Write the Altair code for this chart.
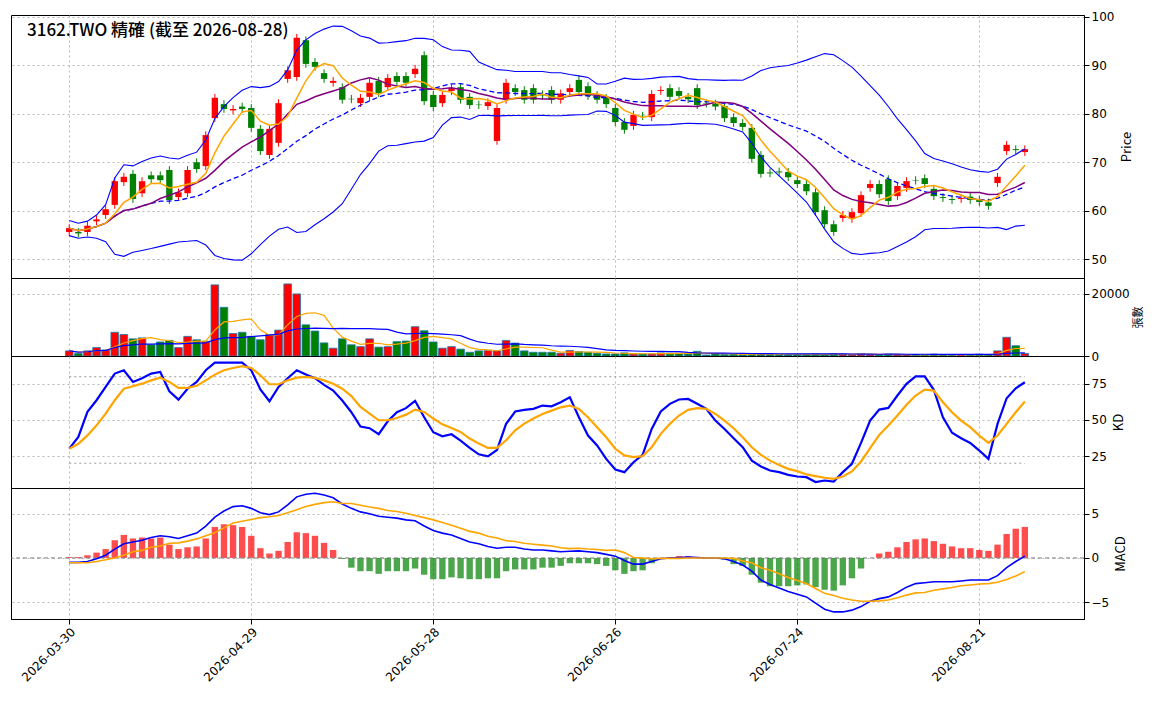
import pandas as pd
import altair as alt

# daily candles (bar index 0..105)
opens = [55.6, 55.6, 55.6, 57.8, 59.1, 61.2, 65.9, 67.6, 63.6, 67.3,
         67.3, 68.4, 62.8, 63.6, 70.0, 69.2, 79.1, 82.0, 80.7, 81.5,
         81.2, 76.9, 71.5, 74.0, 87.2, 87.6, 95.2, 90.7, 88.4, 86.4,
         85.5, 83.1, 82.2, 83.5, 86.8, 85.5, 87.8, 87.8, 88.2, 92.1,
         83.9, 82.2, 84.7, 85.5, 83.5, 81.9, 81.6, 74.4, 82.9, 85.3,
         84.9, 85.3, 84.0, 84.9, 82.9, 84.5, 87.0, 85.7, 83.9, 83.3,
         81.2, 78.3, 77.5, 79.6, 79.3, 84.7, 85.3, 84.7, 83.5, 85.3,
         82.2, 82.1, 81.6, 79.3, 78.1, 77.1, 71.5, 67.9, 68.1, 68.0,
         66.3, 65.5, 63.8, 60.1, 57.2, 58.5, 58.3, 59.5, 64.7, 65.5,
         66.5, 63.0, 64.7, 66.3, 66.7, 64.5, 62.8, 62.4, 62.4, 62.9,
         62.3, 61.7, 65.7, 72.3, 72.7, 72.1]
closes = [56.4, 55.3, 56.9, 58.2, 60.3, 66.1, 67.0, 62.4, 66.1, 66.5,
          66.3, 62.2, 63.8, 68.4, 68.6, 75.6, 83.3, 81.0, 81.0, 81.0,
          77.1, 72.3, 76.9, 82.2, 89.0, 95.7, 90.3, 89.7, 87.2, 86.8,
          82.9, 83.0, 83.3, 86.4, 84.3, 87.4, 86.6, 86.4, 89.3, 82.6,
          81.4, 83.9, 85.3, 82.9, 81.8, 81.8, 82.4, 81.2, 86.4, 84.5,
          82.9, 82.9, 83.8, 82.9, 84.2, 85.3, 84.5, 83.7, 82.9, 82.0,
          78.3, 76.7, 79.8, 79.5, 84.1, 84.9, 83.5, 83.7, 83.0, 81.8,
          82.1, 81.5, 79.1, 78.1, 77.3, 70.7, 67.6, 67.7, 67.9, 66.9,
          65.5, 64.0, 59.7, 57.2, 55.6, 59.1, 59.7, 63.2, 65.5, 63.4,
          62.0, 65.1, 66.1, 66.2, 65.5, 63.0, 62.6, 62.2, 62.6, 62.2,
          61.8, 61.0, 67.0, 73.6, 72.5, 72.7]
volume = [1640, 820, 1640, 2700, 1970, 7600, 6900, 5500, 5800, 3600,
          4500, 5000, 2700, 6300, 5200, 4700, 22800, 15600, 7200, 7600,
          6300, 5200, 6900, 8300, 23100, 19900, 10000, 8000, 4200, 2500,
          5500, 3600, 3000, 5500, 2840, 3000, 4600, 4800, 9400, 8100,
          4500, 2500, 3000, 2200, 1200, 1640, 1750, 1640, 5000, 4150,
          1640, 1200, 1200, 1200, 900, 1750, 1400, 1200, 900, 660,
          660, 1000, 660, 660, 660, 1000, 900, 900, 660, 1500,
          330, 660, 500, 600, 400, 700, 800, 600, 500, 400,
          500, 600, 700, 500, 800, 600, 500, 700, 500, 400,
          600, 500, 400, 300, 500, 600, 400, 300, 500, 400,
          600, 450, 1640, 6000, 3300, 820]
k_vals = [30.1, 38.2, 55.6, 63.7, 73.0, 82.2, 84.5, 76.4, 79.0, 82.2,
          83.3, 69.9, 64.1, 71.7, 76.4, 84.5, 89.8, 89.8, 89.8, 89.8,
          84.5, 71.2, 63.0, 73.0, 79.0, 84.5, 81.5, 79.0, 74.4, 70.4,
          63.5, 55.4, 45.4, 44.3, 40.1, 49.1, 55.4, 58.2, 63.3, 51.9,
          41.5, 38.7, 40.1, 35.7, 30.6, 26.2, 24.8, 29.2, 47.3, 55.9,
          57.0, 57.7, 60.0, 59.5, 62.3, 65.8, 51.9, 39.2, 32.3, 23.0,
          15.6, 13.8, 20.7, 25.8, 43.8, 55.9, 61.2, 64.2, 64.6, 61.2,
          57.7, 49.6, 43.8, 37.3, 31.1, 21.8, 17.7, 14.9, 13.8, 11.9,
          10.8, 10.3, 6.9, 8.0, 7.3, 13.8, 19.6, 34.1, 49.6, 57.2,
          58.4, 67.0, 75.1, 80.2, 80.2, 70.9, 51.9, 41.1, 37.3, 34.1,
          28.8, 23.0, 47.3, 65.1, 72.0, 76.2]
d_vals = [30.0, 33.5, 39.3, 46.3, 54.4, 63.7, 71.7, 73.4, 75.2, 77.5,
          79.4, 76.4, 72.3, 72.3, 73.7, 77.5, 81.5, 84.5, 86.1, 87.3,
          86.1, 81.0, 74.8, 74.8, 77.5, 79.4, 79.9, 79.2, 77.5, 75.2,
          71.7, 66.6, 59.0, 54.4, 49.8, 49.8, 51.4, 53.7, 57.2, 55.6,
          51.0, 47.0, 44.5, 41.7, 37.1, 33.6, 30.6, 30.6, 35.9, 42.8,
          47.5, 51.0, 54.2, 56.5, 58.8, 60.0, 57.7, 51.9, 45.0, 38.0,
          30.0, 25.4, 24.2, 24.9, 31.1, 40.4, 47.3, 53.1, 57.0, 58.2,
          57.7, 54.2, 49.6, 44.3, 38.0, 31.1, 25.8, 21.8, 18.8, 16.1,
          14.5, 12.2, 11.0, 9.9, 9.2, 10.8, 14.3, 21.2, 30.4, 39.6,
          46.1, 53.1, 60.5, 67.0, 71.1, 70.4, 62.3, 55.4, 49.6, 45.0,
          39.2, 34.1, 39.2, 47.3, 55.4, 62.8]
macd = [-0.5, -0.5, -0.4, -0.1, 0.3, 1.0, 1.6, 1.8, 2.0, 2.3,
        2.5, 2.4, 2.2, 2.5, 2.8, 3.6, 4.6, 5.3, 5.8, 5.9,
        5.6, 5.1, 4.9, 5.2, 6.0, 6.9, 7.2, 7.3, 7.1, 6.8,
        6.1, 5.6, 5.2, 5.0, 4.7, 4.6, 4.5, 4.3, 4.2, 3.6,
        3.1, 2.8, 2.6, 2.2, 1.8, 1.6, 1.3, 1.1, 1.2, 1.2,
        1.0, 0.9, 0.9, 0.8, 0.7, 0.75, 0.8, 0.7, 0.6, 0.4,
        0.2, -0.3, -0.7, -0.7, -0.4, -0.1, 0.0, 0.05, 0.1, 0.05,
        0.0, 0.0, -0.1, -0.4, -0.8, -1.5, -2.5, -3.0, -3.4, -3.8,
        -4.1, -4.4, -5.1, -5.8, -6.1, -6.1, -5.9, -5.5, -4.9, -4.6,
        -4.4, -3.9, -3.3, -2.9, -2.8, -2.7, -2.7, -2.7, -2.6, -2.5,
        -2.5, -2.5, -2.0, -1.1, -0.4, 0.2]
signal = [-0.55, -0.55, -0.55, -0.4, -0.2, 0.0, 0.3, 0.7, 0.85, 1.2,
          1.35, 1.65, 1.7, 1.9, 2.15, 2.5, 2.85, 3.4, 3.95, 4.15,
          4.35, 4.55, 4.65, 4.8, 5.1, 5.45, 5.8, 6.05, 6.25, 6.35,
          6.15, 6.15, 5.95, 5.75, 5.6, 5.35, 5.25, 5.05, 4.8, 4.55,
          4.3, 4.0, 3.7, 3.35, 3.0, 2.8, 2.45, 2.25, 1.95, 1.85,
          1.65, 1.55, 1.45, 1.35, 1.15, 1.05, 1.1, 1.0, 0.95, 0.85,
          0.9, 0.6, 0.05, 0.0, -0.1, -0.05, -0.05, -0.05, 0.0, 0.0,
          0.0, 0.0, 0.0, -0.05, -0.35, -0.55, -1.1, -1.4, -1.8, -2.2,
          -2.55, -2.9, -3.45, -4.0, -4.25, -4.55, -4.75, -4.9, -4.9, -4.85,
          -4.75, -4.5, -4.2, -3.95, -3.9, -3.65, -3.5, -3.35, -3.15, -3.05,
          -2.95, -2.9, -2.75, -2.45, -2.05, -1.55]
hist = [0.1, 0.1, 0.3, 0.6, 1.0, 2.0, 2.6, 2.2, 2.3, 2.2,
        2.3, 1.5, 1.0, 1.2, 1.3, 2.2, 3.5, 3.8, 3.7, 3.5,
        2.5, 1.1, 0.5, 0.8, 1.8, 2.9, 2.8, 2.5, 1.7, 0.9,
        -0.1, -1.1, -1.5, -1.5, -1.8, -1.5, -1.5, -1.5, -1.2, -1.9,
        -2.4, -2.4, -2.2, -2.3, -2.4, -2.4, -2.3, -2.3, -1.5, -1.3,
        -1.3, -1.3, -1.1, -1.1, -0.9, -0.6, -0.6, -0.6, -0.7, -0.9,
        -1.4, -1.8, -1.5, -1.4, -0.6, -0.1, 0.1, 0.2, 0.2, 0.1,
        0.0, 0.0, -0.2, -0.7, -0.9, -1.9, -2.8, -3.2, -3.2, -3.2,
        -3.1, -3.0, -3.3, -3.6, -3.7, -3.1, -2.3, -1.2, 0.0, 0.5,
        0.7, 1.2, 1.8, 2.1, 2.2, 1.9, 1.6, 1.3, 1.1, 1.1,
        0.9, 0.8, 1.5, 2.7, 3.3, 3.5]
tick_idx = [0, 20, 40, 60, 80, 100]
tick_labels = ['2026-03-30', '2026-04-29', '2026-05-28', '2026-06-26', '2026-07-24', '2026-08-21']

df = pd.DataFrame({'i': range(len(closes)), 'open': opens, 'close': closes, 'vol': volume,
                   'K': k_vals, 'D': d_vals, 'macd': macd, 'signal': signal, 'hist': hist})
df['up'] = df['close'] >= df['open']
df['top'] = df[['open', 'close']].max(axis=1)
df['bot'] = df[['open', 'close']].min(axis=1)
df['high'] = df['top'] + 0.8
df['low'] = df['bot'] - 0.8
df['x0'] = df['i'] - 0.35
df['x1'] = df['i'] + 0.35
df['v0'] = df['i'] - 0.42
df['v1'] = df['i'] + 0.42

# moving averages / bollinger from the closes
df['ma5'] = df['close'].rolling(5, min_periods=1).mean()
df['ma10'] = df['close'].rolling(10, min_periods=1).mean()
df['ma20'] = df['close'].rolling(20, min_periods=1).mean()
std = df['close'].rolling(20, min_periods=2).std().bfill()
df['bb_up'] = df['ma20'] + 2 * std
df['bb_lo'] = df['ma20'] - 2 * std
df['vma5'] = df['vol'].rolling(5, min_periods=1).mean()
df['vma20'] = df['vol'].rolling(20, min_periods=1).mean()

W = 1073
xdom = alt.Scale(domain=[-6.4, 111.5], nice=False, zero=False)
grid = dict(gridDash=[2, 3], gridColor='#b0b0b0', gridOpacity=0.9)
label_expr = '[' + ','.join(f"'{t}'" for t in tick_labels) + '][round(datum.value/20)]'


def xenc(field='i:Q', bottom=False):
    if bottom:
        ax = alt.Axis(values=tick_idx, labelExpr=label_expr, labelAngle=-45, title=None,
                      labelFontSize=12, labelAlign='right', labelBaseline='top', **grid)
    else:
        ax = alt.Axis(values=tick_idx, labels=False, ticks=False, title=None, domain=False, **grid)
    return alt.X(field, scale=xdom, axis=ax)


def yaxis(title, values, fmt='d', tfs=13, pad=19):
    return alt.Axis(orient='right', values=values, title=title, format=fmt, labelFontSize=12,
                    titleFontSize=tfs, titleFontWeight='normal', titleAngle=270,
                    titlePadding=pad, **grid)


color_up = alt.condition('datum.up', alt.value('#ff0000'), alt.value('#008000'))
base = alt.Chart(df)

# price panel
wick = base.mark_rule(strokeWidth=1).encode(
    x=xenc(), y=alt.Y('low:Q', scale=alt.Scale(domain=[46.1, 100.4], nice=False, zero=False),
                      axis=yaxis('Price', [50, 60, 70, 80, 90, 100], pad=20)),
    y2='high:Q', color=color_up)
body = base.mark_bar().encode(x='x0:Q', x2='x1:Q', y='bot:Q', y2='top:Q', color=color_up)


def pline(col, color, dash=None, w=1.3):
    kw = dict(color=color, strokeWidth=w)
    if dash:
        kw['strokeDash'] = dash
    return base.mark_line(**kw).encode(x='i:Q', y=f'{col}:Q')


title = alt.Chart(pd.DataFrame({'t': ['3162.TWO 精確 (截至 2026-08-28)']})).mark_text(
    align='left', baseline='top', fontSize=17, fontWeight=500, font='Noto Sans CJK TC'
).encode(x=alt.value(16), y=alt.value(8), text='t:N')

price = alt.layer(wick, body,
                  pline('bb_up', 'blue', w=1.1), pline('bb_lo', 'blue', w=1.1),
                  pline('ma20', 'blue', [5, 3]), pline('ma10', 'purple', w=1.5),
                  pline('ma5', 'orange', w=1.5), title).properties(width=W, height=263)

# volume panel
vbars = base.mark_bar(stroke='#1f77b4', strokeWidth=0.8).encode(
    x=xenc('v0:Q'), x2='v1:Q',
    y=alt.Y('vol:Q', scale=alt.Scale(domain=[0, 25000], nice=False),
            axis=yaxis('張數', [0, 20000], tfs=11, pad=14)),
    y2=alt.datum(0),
    color=color_up)
vol = alt.layer(vbars,
                base.mark_line(color='orange', strokeWidth=1.2).encode(x='i:Q', y='vma5:Q'),
                base.mark_line(color='blue', strokeWidth=1.2).encode(x='i:Q', y='vma20:Q')
                ).properties(width=W, height=78)

# KD panel
ref = pd.DataFrame({'x': [0, 0], 'x2': [105, 105], 'y': [20, 80]})
kd = alt.layer(
    alt.Chart(ref).mark_rule(strokeDash=[2, 3], color='#999999').encode(
        x=xenc('x:Q'), x2='x2:Q',
        y=alt.Y('y:Q', scale=alt.Scale(domain=[2.8, 94.4], nice=False), axis=yaxis('KD', [25, 50, 75]))),
    base.mark_line(color='blue', strokeWidth=2.2).encode(x='i:Q', y='K:Q'),
    base.mark_line(color='orange', strokeWidth=2.2).encode(x='i:Q', y='D:Q'),
).properties(width=W, height=132)

# MACD panel
hbars = base.mark_bar(opacity=0.7).encode(
    x=xenc('x0:Q', bottom=True), x2='x1:Q',
    y=alt.Y('hist:Q', scale=alt.Scale(domain=[-6.9, 7.9], nice=False), axis=yaxis('MACD', [-5, 0, 5])),
    y2=alt.datum(0),
    color=alt.condition('datum.hist >= 0', alt.value('#ff0000'), alt.value('#008000')))
zero = alt.Chart(pd.DataFrame({'y': [0]})).mark_rule(strokeDash=[4, 3], color='gray').encode(y='y:Q')
macd_panel = alt.layer(
    hbars, zero,
    base.mark_line(color='blue', strokeWidth=1.6).encode(x='i:Q', y='macd:Q'),
    base.mark_line(color='orange', strokeWidth=1.6).encode(x='i:Q', y='signal:Q'),
).properties(width=W, height=131)

chart = alt.vconcat(price, vol, kd, macd_panel, spacing=0, bounds='flush').properties(
    padding={'left': 2, 'top': 2, 'right': 2, 'bottom': 2}
).configure_view(stroke='black', strokeWidth=1).configure_axis(
    labelFont='DejaVu Sans', titleFont='Noto Sans CJK TC', tickColor='black', domainColor='black'
).resolve_scale(x='shared')

chart.save('out.html', embed_options={'renderer': 'svg', 'actions': False})
